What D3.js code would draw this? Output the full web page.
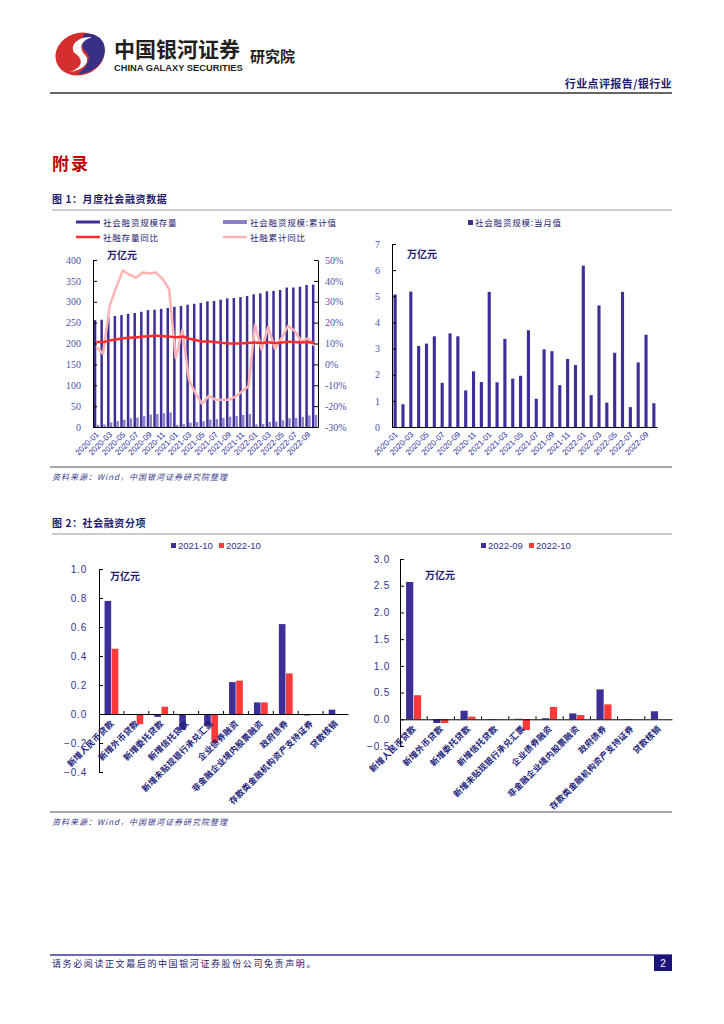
<!DOCTYPE html>
<html>
<head>
<meta charset="utf-8">
<title>社会融资数据</title>
<style>
body { margin: 0; background: #fff; }
svg { display: block; }
text { font-family: "Noto Sans CJK SC", "Liberation Sans", sans-serif; }
.num { font-family: "Liberation Serif", serif; font-size: 10px; fill: #5050a8; }
.num2 { font-family: "Liberation Sans", Arial, sans-serif; font-size: 10px; fill: #33338f; }
.xlab { font-family: "Liberation Sans", sans-serif; font-size: 8px; fill: #2b2b9b; }
.cat { font-size: 8.5px; fill: #22227a; font-weight: bold; letter-spacing: 0.3px; }
.axis path, .axis line { stroke: #000; }
</style>
</head>
<body>
<script src="https://d3js.org/d3.v7.min.js"></script>
<script>

// months 2020-01 .. 2022-10
var months = ["2020-01","2020-02","2020-03","2020-04","2020-05","2020-06","2020-07","2020-08","2020-09","2020-10","2020-11","2020-12",
              "2021-01","2021-02","2021-03","2021-04","2021-05","2021-06","2021-07","2021-08","2021-09","2021-10","2021-11","2021-12",
              "2022-01","2022-02","2022-03","2022-04","2022-05","2022-06","2022-07","2022-08","2022-09","2022-10"];

// 社会融资规模存量 (万亿元)
var stock = [256,257,263,266,268,271,273,276,280,281,283,285,
             288,290,293,295,297,301,302,305,308,309,311,314,
             318,320,325,326,328,334,334,336,340,341];

// 社会融资规模:累计值 (万亿元)
var cumulative = [5.07,5.94,11.12,14.22,17.41,20.88,22.57,26.15,29.62,31.02,33.15,34.87,
                  5.17,6.88,10.25,12.10,14.06,17.76,18.84,21.81,24.71,26.31,28.91,31.28,
                  6.17,7.39,12.04,12.97,15.81,20.98,21.74,24.21,27.74,28.65];

// 社融存量同比 (%)
var stockYoY = [10.7,10.7,11.5,12.0,12.5,12.8,12.9,13.3,13.5,13.7,13.6,13.3,
                13.0,13.3,12.3,11.7,11.0,11.0,10.7,10.3,10.0,10.0,10.1,10.3,
                10.5,10.2,10.6,10.2,10.5,10.8,10.7,10.5,10.6,10.3];

// 社融累计同比 (%)
var cumYoY = [8.4,5,28,37,45,43,41.5,44,43.5,44,41,36,
              3,16.5,-7.5,-14,-19,-15,-17,-17,-17,-15.5,-13,-10.5,
              19,7,18,7.5,12.5,18.5,16,11,12.5,9];

// 社会融资规模:当月值 (万亿元)
var monthly = [5.07,0.87,5.18,3.10,3.19,3.47,1.69,3.58,3.47,1.40,2.13,1.72,
               5.17,1.71,3.37,1.85,1.96,3.70,1.08,2.97,2.90,1.60,2.60,2.37,
               6.17,1.22,4.65,0.93,2.84,5.17,0.76,2.47,3.53,0.91];

var items = ["新增人民币贷款","新增外币贷款","新增委托贷款","新增信托贷款","新增未贴现银行承兑汇票",
             "企业债券融资","非金融企业境内股票融资","政府债券","存款类金融机构资产支持证券","贷款核销"];
var oct2021 = [0.78,0.00,-0.02,-0.11,-0.08,0.22,0.08,0.62,-0.01,0.03];
var sep2022 = [2.57,-0.07,0.16,-0.01,0.01,0.02,0.11,0.56,-0.01,0.15];
var oct2022 = [0.45,-0.07,0.05,-0.005,-0.20,0.23,0.08,0.28,0.00,0.00];

var navy = "#3c2f98", lilac = "#8a80c8", red = "#ff2a2a", pink = "#ffb3b3", txt = "#1e1a6e";

var svg = d3.select("body").append("svg")
    .attr("width", 724)
    .attr("height", 1024);

// ---------- header ----------
var logo = svg.append("g").attr("transform", "translate(80,54)");
logo.append("ellipse").attr("rx", 25).attr("ry", 21).attr("fill", "#d42e2e")
    .attr("transform", "rotate(-20)");
logo.append("path").attr("fill", "#3a2f86")
    .attr("d", "M4,-20 C20,-22 28,-10 24,2 C20,14 8,20 -2,20 C8,12 12,4 6,-2 C2,-6 0,-12 4,-20 Z");
logo.append("path").attr("fill", "#fff")
    .attr("d", "M12,-17 C-4,-18 -12,-6 -4,0 C4,6 2,14 -10,18 C4,16 10,8 6,2 C0,-4 -2,-12 12,-17 Z");

svg.append("text").attr("x", 114).attr("y", 57)
    .style("font-size", "21px").style("font-weight", "bold").attr("fill", "#231f20")
    .text("中国银河证券");
svg.append("text").attr("x", 114).attr("y", 71)
    .style("font-family", "Liberation Sans, sans-serif")
    .style("font-size", "9.3px").style("font-weight", "bold").attr("fill", "#231f20")
    .text("CHINA GALAXY SECURITIES");
svg.append("text").attr("x", 250).attr("y", 62)
    .style("font-size", "15px").style("font-weight", "bold").attr("fill", "#231f20")
    .text("研究院");
svg.append("text").attr("x", 672).attr("y", 88).attr("text-anchor", "end")
    .style("font-size", "11px").style("font-weight", "bold").attr("fill", txt)
    .style("letter-spacing", "0.4px")
    .text("行业点评报告/银行业");
svg.append("line").attr("x1", 50).attr("x2", 672).attr("y1", 93).attr("y2", 93)
    .attr("stroke", "#333").attr("stroke-width", 1.5);

svg.append("text").attr("x", 52).attr("y", 170)
    .style("font-size", "17px").style("font-weight", "bold").attr("fill", "#c00000")
    .style("letter-spacing", "2px")
    .text("附录");

function sectionTitle(y, label) {
  svg.append("text").attr("x", 52).attr("y", y)
      .style("font-size", "10px").style("font-weight", "bold").attr("fill", txt)
      .style("letter-spacing", "0.6px")
      .text(label);
  svg.append("line").attr("x1", 52).attr("x2", 672).attr("y1", y + 7).attr("y2", y + 7)
      .attr("stroke", "#9a9a9a").attr("stroke-width", 1);
}
function sourceNote(y) {
  svg.append("line").attr("x1", 50).attr("x2", 672).attr("y1", y).attr("y2", y)
      .attr("stroke", "#a8a8a8").attr("stroke-width", 2);
  svg.append("text").attr("x", 52).attr("y", y + 13)
      .style("font-size", "8px").style("font-style", "italic").attr("fill", "#3a3a8a")
      .style("letter-spacing", "1px")
      .text("资料来源：Wind，中国银河证券研究院整理");
}

sectionTitle(203, "图 1：月度社会融资数据");
sectionTitle(527, "图 2：社会融资分项");
sourceNote(467);
sourceNote(812);

// ---------- chart 1 left ----------
var x1 = d3.scaleBand().domain(months).range([93, 318]).paddingInner(0.12).paddingOuter(0.08);
var x1s = d3.scaleBand().domain(["s", "c"]).range([0, x1.bandwidth()]).padding(0.1);
var yL = d3.scaleLinear().domain([0, 400]).range([427, 260]);
var yR = d3.scaleLinear().domain([-30, 50]).range([427, 260]);

var c1 = svg.append("g");
c1.selectAll(".stock").data(months).enter().append("rect")
    .attr("x", function(d) { return x1(d) + x1s("s"); })
    .attr("width", x1s.bandwidth())
    .attr("y", function(d, i) { return yL(stock[i]); })
    .attr("height", function(d, i) { return yL(0) - yL(stock[i]); })
    .attr("fill", navy);
c1.selectAll(".cum").data(months).enter().append("rect")
    .attr("x", function(d) { return x1(d) + x1s("c"); })
    .attr("width", x1s.bandwidth())
    .attr("y", function(d, i) { return yL(cumulative[i]); })
    .attr("height", function(d, i) { return yL(0) - yL(cumulative[i]); })
    .attr("fill", lilac);

var lineR = function(arr) {
  return d3.line()
      .x(function(d, i) { return x1(months[i]) + x1.bandwidth() / 2; })
      .y(function(d) { return yR(d); })(arr);
};
c1.append("path").attr("d", lineR(cumYoY)).attr("fill", "none")
    .attr("stroke", pink).attr("stroke-width", 2.5).attr("stroke-linejoin", "round");
c1.append("path").attr("d", d3.line()
      .curve(d3.curveMonotoneX)
      .x(function(d, i) { return x1(months[i]) + x1.bandwidth() / 2; })
      .y(function(d) { return yR(d); })(stockYoY))
    .attr("fill", "none").attr("stroke", red).attr("stroke-width", 2.5);

c1.append("g").attr("class", "axis").attr("transform", "translate(93,0)")
    .call(d3.axisLeft(yL).tickValues(d3.range(0, 401, 50)).tickSize(-4).tickPadding(12).tickSizeOuter(0))
    .call(function(g) { g.selectAll("text").attr("class", "num"); });
c1.append("g").attr("class", "axis").attr("transform", "translate(318,0)")
    .call(d3.axisRight(yR).tickValues(d3.range(-30, 51, 10)).tickSize(-4).tickPadding(7).tickSizeOuter(0)
      .tickFormat(function(d) { return d + "%"; }))
    .call(function(g) { g.selectAll("text").attr("class", "num"); });
c1.append("g").attr("class", "axis").attr("transform", "translate(0,427)")
    .call(d3.axisBottom(x1).tickSize(0).tickFormat("").tickSizeOuter(0));

function monthLabels(g, xs, y) {
  g.selectAll(".ml").data(months.filter(function(d, i) { return i % 2 === 0; }))
    .enter().append("text")
      .attr("class", "xlab")
      .attr("text-anchor", "end")
      .attr("transform", function(d) {
        return "translate(" + (xs(d) + xs.bandwidth() / 2 + 3) + "," + y + ") rotate(-45)";
      })
      .text(function(d) { return d; });
}
monthLabels(c1, x1, 435);

c1.append("text").attr("x", 107).attr("y", 259)
    .style("font-size", "10px").style("font-weight", "bold").attr("fill", txt).text("万亿元");

// legend chart 1 left
var leg1 = [
  {label: "社会融资规模存量", color: navy, w: 3, x: 76, y: 222},
  {label: "社会融资规模:累计值", color: lilac, w: 4, x: 223, y: 222},
  {label: "社融存量同比", color: red, w: 2.5, x: 76, y: 237},
  {label: "社融累计同比", color: pink, w: 2.5, x: 223, y: 237}
];
leg1.forEach(function(d) {
  c1.append("line").attr("x1", d.x).attr("x2", d.x + 24).attr("y1", d.y).attr("y2", d.y)
      .attr("stroke", d.color).attr("stroke-width", d.w);
  c1.append("text").attr("x", d.x + 27).attr("y", d.y + 3.5)
      .style("font-size", "8.5px").attr("fill", txt).style("letter-spacing", "0.8px").text(d.label);
});

// ---------- chart 1 right ----------
var x2 = d3.scaleBand().domain(months).range([392, 657]).paddingInner(0.6).paddingOuter(0.2);
var y2 = d3.scaleLinear().domain([0, 7]).range([427, 244]);
var c2 = svg.append("g");
c2.selectAll("rect").data(months).enter().append("rect")
    .attr("x", function(d) { return x2(d); })
    .attr("width", x2.bandwidth())
    .attr("y", function(d, i) { return y2(monthly[i]); })
    .attr("height", function(d, i) { return y2(0) - y2(monthly[i]); })
    .attr("fill", navy);
c2.append("g").attr("class", "axis").attr("transform", "translate(392,0)")
    .call(d3.axisLeft(y2).ticks(7).tickSize(-4).tickPadding(12).tickSizeOuter(0))
    .call(function(g) { g.selectAll("text").attr("class", "num"); });
c2.append("g").attr("class", "axis").attr("transform", "translate(0,427)")
    .call(d3.axisBottom(x2).tickSize(0).tickFormat("").tickSizeOuter(0));
monthLabels(c2, x2, 435);
c2.append("text").attr("x", 407).attr("y", 258)
    .style("font-size", "10px").style("font-weight", "bold").attr("fill", txt).text("万亿元");
c2.append("rect").attr("x", 468).attr("y", 220).attr("width", 5).attr("height", 5).attr("fill", navy);
c2.append("text").attr("x", 475).attr("y", 226)
    .style("font-size", "8.5px").attr("fill", txt).style("letter-spacing", "0.8px").text("社会融资规模:当月值");

// ---------- chart 2 ----------
function groupChart(opt) {
  var g = svg.append("g");
  var x = d3.scaleBand().domain(items).range([opt.x0, opt.x1]).paddingInner(0.4).paddingOuter(0.2);
  var xs = d3.scaleBand().domain([0, 1]).range([0, x.bandwidth()]).padding(0.08);
  var y = d3.scaleLinear().domain(opt.domain).range([opt.yb, opt.yt]);
  [opt.a, opt.b].forEach(function(arr, k) {
    g.selectAll(".s" + k).data(items).enter().append("rect")
        .attr("x", function(d) { return x(d) + xs(k); })
        .attr("width", xs.bandwidth())
        .attr("y", function(d, i) { return y(Math.max(0, arr[i])); })
        .attr("height", function(d, i) { return Math.abs(y(arr[i]) - y(0)); })
        .attr("fill", k === 0 ? navy : "#ff3838");
  });
  g.append("g").attr("class", "axis").attr("transform", "translate(" + opt.x0 + ",0)")
      .call(d3.axisLeft(y).tickValues(opt.ticks).tickSize(-4).tickPadding(opt.pad).tickSizeOuter(0)
        .tickFormat(d3.format(".1f")))
      .call(function(s) { s.selectAll("text").attr("class", "num2").style("letter-spacing", "0.8px"); });
  g.append("g").attr("class", "axis").attr("transform", "translate(0," + y(0) + ")")
      .call(d3.axisBottom(x).tickSize(0).tickFormat("").tickSizeOuter(0));
  // small tick marks between categories on the zero line
  g.selectAll(".tk").data(items.slice(1)).enter().append("line")
      .attr("x1", function(d) { return x(d) - x.step() * x.paddingInner() / 2; })
      .attr("x2", function(d) { return x(d) - x.step() * x.paddingInner() / 2; })
      .attr("y1", y(0)).attr("y2", y(0) - 3).attr("stroke", "#000");
  g.selectAll(".cat").data(items).enter().append("text")
      .attr("class", "cat")
      .attr("text-anchor", "end")
      .attr("transform", function(d) {
        return "translate(" + (x(d) + x.bandwidth() / 2 + 3) + "," + (y(0) + 10) + ") rotate(-45)";
      })
      .text(function(d) { return d; });
  g.append("text").attr("x", opt.unitX).attr("y", opt.unitY)
      .style("font-size", "10px").style("font-weight", "bold").attr("fill", txt).text("万亿元");
  var lx = opt.legendX;
  opt.names.forEach(function(n, k) {
    g.append("rect").attr("x", lx + k * 48).attr("y", 543).attr("width", 5).attr("height", 5)
        .attr("fill", k === 0 ? navy : "#ff3838");
    g.append("text").attr("x", lx + 7 + k * 48).attr("y", 549)
        .attr("class", "num2").style("font-size", "9.5px").text(n);
  });
}

groupChart({x0: 99, x1: 348, yt: 569, yb: 772, domain: [-0.4, 1.0],
            ticks: [-0.4, -0.2, 0, 0.2, 0.4, 0.6, 0.8, 1.0], pad: 12,
            a: oct2021, b: oct2022, names: ["2021-10", "2022-10"],
            legendX: 171, unitX: 110, unitY: 580});
groupChart({x0: 400, x1: 672, yt: 559, yb: 746, domain: [-0.5, 3.0],
            ticks: [-0.5, 0, 0.5, 1.0, 1.5, 2.0, 2.5, 3.0], pad: 10,
            a: sep2022, b: oct2022, names: ["2022-09", "2022-10"],
            legendX: 481, unitX: 425, unitY: 579});

// ---------- footer ----------
svg.append("line").attr("x1", 50).attr("x2", 672).attr("y1", 955).attr("y2", 955)
    .attr("stroke", "#3a36a0").attr("stroke-width", 1.5);
svg.append("text").attr("x", 52).attr("y", 967)
    .style("font-size", "9px").attr("fill", txt).style("letter-spacing", "1.6px")
    .text("请务必阅读正文最后的中国银河证券股份公司免责声明。");
svg.append("rect").attr("x", 654).attr("y", 955).attr("width", 18).attr("height", 16).attr("fill", "#1c1478");
svg.append("text").attr("x", 663).attr("y", 967).attr("text-anchor", "middle")
    .style("font-family", "Liberation Sans, sans-serif").style("font-size", "10px").attr("fill", "#fff").text("2");

</script>
</body>
</html>
